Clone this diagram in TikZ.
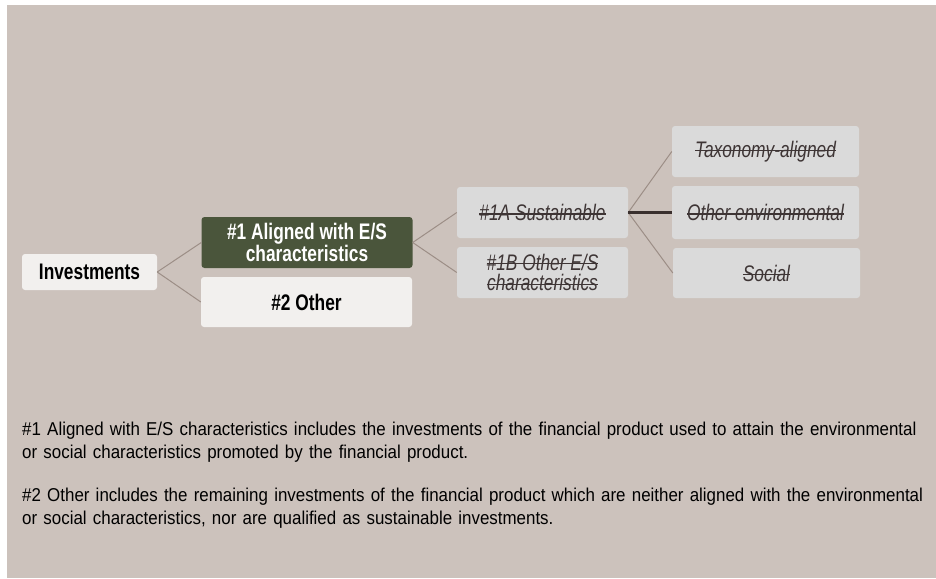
\documentclass[tikz,border=0pt]{standalone}
\usepackage{fontspec}
\setmainfont{Liberation Sans}
\newfontfamily\boxfont{Liberation Sans}[FakeStretch=0.77]
\newfontfamily\narrowfont{Liberation Sans}[FakeStretch=0.91, WordSpace=0.85]
\newsavebox\strkbox
\newcommand\strk[1]{\sbox\strkbox{#1}\rlap{\rule[0.26em]{\wd\strkbox}{1.4pt}}\usebox\strkbox}
\usepackage{xcolor}
\definecolor{PanelBg}{RGB}{204,194,188}
\definecolor{BoxLight}{RGB}{242,240,238}
\definecolor{BoxGray}{RGB}{218,218,218}
\definecolor{BoxGreen}{RGB}{74,85,59}
\definecolor{LinkGray}{RGB}{156,142,134}
\definecolor{LinkDark}{RGB}{58,48,46}
\definecolor{StrikeText}{RGB}{62,53,53}
\usepackage{tikz}
\usetikzlibrary{math}
\tikzset{%
  box/.style={rounded corners=3pt, inner sep=0pt, align=center,
    font=\boxfont\fontsize{22.5}{20.5}\selectfont},
  light box/.style={box, fill=BoxLight, text=black,
    font=\boxfont\bfseries\fontsize{22.5}{20.5}\selectfont},
  green box/.style={box, fill=BoxGreen, text=white,
    font=\boxfont\bfseries\fontsize{22.5}{20.5}\selectfont},
  gray box/.style={box, fill=BoxGray, text=StrikeText,
    font=\boxfont\itshape\fontsize{22.5}{20.5}\selectfont},
  link/.style={draw=LinkGray, line width=1pt},
  link thick/.style={draw=LinkDark, line width=2.6pt},
  note/.style={inner sep=0pt, anchor=base west, align=left, text width=910pt,
    font=\narrowfont\fontsize{18.6}{23}\selectfont}
}

\begin{document}
\begin{tikzpicture}[x=1pt,y=-1pt]
    \tikzmath{
      \wInv=135; \wMid=211; \wSub=171; \wLeaf=187;
    }
    \useasboundingbox (0,0) rectangle (936,578);
    \fill[PanelBg] (7,5) rectangle (936,578);
    \node[light box, minimum width=\wInv, minimum height=36] (inv) at (89.5,272) {Investments};
    \node[green box, minimum width=\wMid, minimum height=51] (align) at (307,242.5) {\#1 Aligned with E/S\\characteristics};
    \node[light box, minimum width=\wMid, minimum height=50] (other) at (306.5,302) {\#2 Other};
    \node[gray box, minimum width=\wSub, minimum height=51] (sust) at (542.5,212.5) {\strk{\#1A Sustainable}};
    \node[gray box, minimum width=\wSub, minimum height=51] (othes) at (542.5,272.5) {\strk{\#1B Other E/S}\\\strk{characteristics}};
    \node[gray box, minimum width=\wLeaf, minimum height=51] (taxo) at (765.5,151.5) {\strk{Taxonomy-aligned}};
    \node[gray box, minimum width=\wLeaf, minimum height=53] (env) at (765.5,212.5) {\strk{Other environmental}};
    \node[gray box, minimum width=\wLeaf, minimum height=50] (soc) at (766.5,273) {\strk{Social}};
    \foreach \a/\b in {inv/align, inv/other, align/sust, align/othes, sust/taxo, sust/soc} {
      \draw[link] (\a.east) -- (\b.west);
    }
    \draw[link thick] (sust.east) -- (env.west);
    \node[note] (note1) at (22,435) {\#1 Aligned with E/S characteristics includes the investments of the financial product used to attain the environmental\\or social characteristics promoted by the financial product.};
    \node[note] (note2) at (22,501) {\#2 Other includes the remaining investments of the financial product which are neither aligned with the environmental\\or social characteristics, nor are qualified as sustainable investments.};
\end{tikzpicture}
\end{document}
